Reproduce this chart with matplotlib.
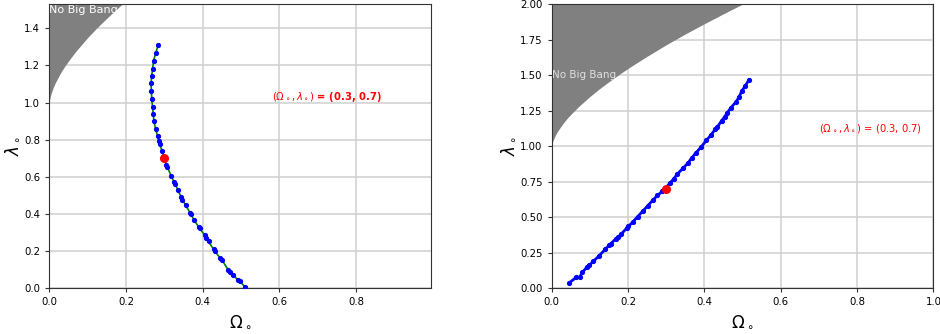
import matplotlib
matplotlib.use("Agg")
import matplotlib.pyplot as plt

# "No Big Bang" boundary (Omega, lambda)
bound_om = [0.0, 0.0001, 0.0005, 0.001, 0.002, 0.003, 0.005, 0.01, 0.015, 0.02, 0.03, 0.04, 0.05,
            0.07, 0.1, 0.125, 0.15, 0.175, 0.2, 0.25, 0.3, 0.35, 0.4, 0.45, 0.5]
bound_la = [1.0, 1.004, 1.011, 1.018, 1.028, 1.037, 1.051, 1.080, 1.104, 1.124, 1.162, 1.195, 1.224,
            1.278, 1.350, 1.404, 1.454, 1.502, 1.548, 1.633, 1.714, 1.790, 1.862, 1.932, 2.0]

# left panel curve
left_om = [0.284, 0.277, 0.272, 0.269, 0.267, 0.265, 0.266, 0.267, 0.269, 0.271, 0.273, 0.277,
           0.282, 0.285, 0.288, 0.294, 0.300, 0.305, 0.308, 0.317, 0.325, 0.328, 0.335, 0.344,
           0.347, 0.355, 0.367, 0.369, 0.377, 0.389, 0.392, 0.405, 0.409, 0.415, 0.428, 0.431,
           0.446, 0.450, 0.466, 0.471, 0.480, 0.491, 0.496, 0.510]
left_la = [1.309, 1.265, 1.226, 1.181, 1.142, 1.104, 1.061, 1.020, 0.976, 0.936, 0.898, 0.857,
           0.821, 0.795, 0.776, 0.737, 0.700, 0.665, 0.652, 0.607, 0.573, 0.562, 0.529, 0.490,
           0.477, 0.449, 0.406, 0.400, 0.368, 0.332, 0.322, 0.286, 0.271, 0.252, 0.210, 0.200,
           0.162, 0.153, 0.100, 0.087, 0.071, 0.046, 0.038, 0.008]

# right panel curve
right_om = [0.046, 0.064, 0.073, 0.080, 0.093, 0.098, 0.109, 0.124, 0.140, 0.150, 0.154, 0.167,
            0.173, 0.182, 0.196, 0.201, 0.212, 0.225, 0.238, 0.251, 0.265, 0.277, 0.290, 0.309,
            0.319, 0.329, 0.345, 0.356, 0.367, 0.378, 0.392, 0.405, 0.417, 0.428, 0.433, 0.445,
            0.453, 0.459, 0.469, 0.483, 0.491, 0.498, 0.507, 0.516]
right_la = [0.039, 0.077, 0.077, 0.112, 0.152, 0.162, 0.190, 0.229, 0.274, 0.302, 0.312, 0.347,
            0.359, 0.382, 0.422, 0.436, 0.466, 0.504, 0.542, 0.579, 0.621, 0.654, 0.683, 0.738,
            0.769, 0.804, 0.848, 0.879, 0.918, 0.954, 0.996, 1.041, 1.078, 1.118, 1.132, 1.179,
            1.207, 1.231, 1.270, 1.312, 1.347, 1.390, 1.423, 1.465]

ref_om, ref_la = 0.3, 0.7

fig = plt.figure(figsize=(9.4, 3.34), dpi=100)
ax1 = fig.add_axes([0.0525, 0.1368, 0.406, 0.851])
ax2 = fig.add_axes([0.587, 0.1368, 0.406, 0.851])

grid_kw = dict(color='#cfcfcf', linewidth=1.1)

# Left panel
ax1.set_xlim(0, 0.995)
ax1.set_ylim(0, 1.53)
ax1.fill_between(bound_om, bound_la, 1.53, color='gray', lw=0, zorder=1)
ax1.plot(left_om, left_la, color='green', lw=1.2, zorder=3)
ax1.plot(left_om, left_la, 'b.', ms=5.5, zorder=4)
ax1.plot([ref_om], [ref_la], 'ro', ms=5.5, zorder=5)
ax1.text(0.0, 1.5, 'No Big Bang', color='white', fontsize=8, va='center', ha='left', zorder=2)
ax1.text(0.58, 0.99, r'$(\Omega_\circ, \lambda_\circ)$ = (0.3, 0.7)', color='red',
         fontsize=7.2, fontweight='bold', va='bottom')
ax1.set_xticks([0.0, 0.2, 0.4, 0.6, 0.8])
ax1.set_yticks([0.0, 0.2, 0.4, 0.6, 0.8, 1.0, 1.2, 1.4])
ax1.grid(True, **grid_kw)
ax1.set_axisbelow(True)
ax1.set_xlabel(r'$\Omega_\circ$', fontsize=12, labelpad=3)
ax1.set_ylabel(r'$\lambda_\circ$', fontsize=12, labelpad=2)

# Right panel
ax2.set_xlim(0, 1.0)
ax2.set_ylim(0, 2.0)
ax2.fill_between(bound_om, bound_la, 2.0, color='gray', lw=0, zorder=1)
ax2.plot(right_om, right_la, color='blue', lw=2, zorder=3)
ax2.plot(right_om, right_la, 'b.', ms=5.5, zorder=4)
ax2.plot([ref_om], [ref_la], 'ro', ms=5.5, zorder=5)
ax2.text(0.0, 1.5, 'No Big Bang', color='#e0e0e0', fontsize=7.5, va='center', ha='left', zorder=2)
ax2.text(0.7, 1.08, r'$(\Omega_\circ, \lambda_\circ)$ = (0.3, 0.7)', color='red',
         fontsize=7.2, va='bottom')
ax2.set_xticks([0.0, 0.2, 0.4, 0.6, 0.8, 1.0])
ax2.set_yticks([0.0, 0.25, 0.5, 0.75, 1.0, 1.25, 1.5, 1.75, 2.0])
ax2.grid(True, **grid_kw)
ax2.set_axisbelow(True)
ax2.set_xlabel(r'$\Omega_\circ$', fontsize=12, labelpad=3)
ax2.set_ylabel(r'$\lambda_\circ$', fontsize=12, labelpad=2)

for ax in (ax1, ax2):
    ax.tick_params(labelsize=7.3, length=3, color='#333333')
    for s in ax.spines.values():
        s.set_color('#333333')

fig.savefig('out.png', dpi=100)
